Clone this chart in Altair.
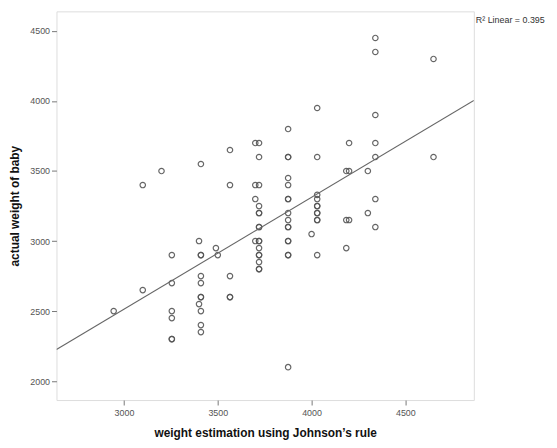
import altair as alt
import pandas as pd

# weight estimation using Johnson's rule (x) and actual weight of baby (y)
est = [2945,
       3100, 3100,
       3200,
       3255, 3255, 3255, 3255, 3255, 3255,
       3410, 3400, 3410, 3410, 3410, 3410, 3410, 3410, 3400, 3410, 3410, 3410,
       3490, 3500,
       3565, 3565, 3565, 3565, 3565,
       3700, 3720, 3720, 3700, 3720, 3700, 3720, 3720, 3720, 3720, 3720, 3700,
       3720, 3720, 3720, 3720, 3720, 3720, 3720, 3720,
       3875, 3875, 3875, 3875, 3875, 3875, 3875, 3875, 3875, 3875, 3875, 3875,
       3875, 3875, 3875, 3875,
       4000,
       4030, 4030, 4030, 4030, 4030, 4030, 4030, 4030, 4030, 4030, 4030,
       4185, 4200, 4200, 4185, 4200, 4185,
       4300, 4300,
       4340, 4340, 4340, 4340, 4340, 4340, 4340,
       4650, 4650]
actual = [2500,
          3400, 2650,
          3500,
          2900, 2700, 2500, 2450, 2300, 2300,
          3550, 3000, 2900, 2900, 2750, 2700, 2600, 2600, 2550, 2500, 2400, 2350,
          2950, 2900,
          3650, 3400, 2750, 2600, 2600,
          3700, 3700, 3600, 3400, 3400, 3300, 3250, 3200, 3200, 3100, 3100, 3000,
          3000, 3000, 2950, 2900, 2900, 2850, 2800, 2800,
          3800, 3600, 3600, 3450, 3400, 3300, 3300, 3200, 3150, 3100, 3100, 3000,
          3000, 2900, 2900, 2100,
          3050,
          3950, 3600, 3330, 3300, 3250, 3250, 3200, 3200, 3150, 3150, 2900,
          3500, 3500, 3700, 3150, 3150, 2950,
          3500, 3200,
          4450, 4350, 3900, 3700, 3600, 3300, 3100,
          4300, 3600]

x_ticks = [3000, 3500, 4000, 4500]
y_ticks = [2000, 2500, 3000, 3500, 4000, 4500]
x_domain = [2640, 4865]
y_domain = [1865, 4640]
r2_label = ["R\u00b2 Linear = 0.395"]

df = pd.DataFrame({"est": est, "actual": actual})

W, H = 422, 393
FONT = "Liberation Sans"

xs = alt.Scale(domain=x_domain, nice=False, zero=False)
ys = alt.Scale(domain=y_domain, nice=False, zero=False)

x_axis = alt.Axis(values=x_ticks, format="d", title="weight estimation using Johnson\u2019s rule",
                  grid=False, domain=False, tickSize=5, tickColor="#777",
                  labelColor="#555", labelFontSize=9, labelFont=FONT, labelPadding=4,
                  titleFont=FONT, titleFontSize=12, titleFontWeight="bold",
                  titleColor="#111", titleY=33, titleBaseline="middle")
y_axis = alt.Axis(values=y_ticks, format="d", title="actual weight of baby",
                  grid=False, domain=False, tickSize=5, tickColor="#777",
                  labelColor="#555", labelFontSize=9, labelFont=FONT, labelPadding=2,
                  titleFont=FONT, titleFontSize=12, titleFontWeight="bold",
                  titleColor="#111", titleX=-42, titleY=H / 2,
                  titleBaseline="middle", titleAlign="center", titleAngle=-90)

base = alt.Chart(df)

points = base.mark_point(shape="circle", filled=False, size=30, strokeWidth=1.2,
                         color="#555", opacity=0.9).encode(
    x=alt.X("est:Q", scale=xs, axis=x_axis),
    y=alt.Y("actual:Q", scale=ys, axis=y_axis),
)

line = base.transform_regression("est", "actual", extent=x_domain).mark_line(
    color="#666", strokeWidth=1.1, clip=True).encode(
    x=alt.X("est:Q", scale=xs),
    y=alt.Y("actual:Q", scale=ys),
)

label = alt.Chart(pd.DataFrame({"t": r2_label})).mark_text(
    align="left", baseline="middle", fontSize=9, font=FONT, color="#333"
).encode(text="t:N", x=alt.value(W + 2), y=alt.value(9))

chart = alt.layer(points, line, label).properties(
    width=W, height=H,
    autosize=alt.AutoSizeParams(type="none"),
    padding={"left": 49, "top": 1, "right": 76, "bottom": 38},
).configure_view(
    fill="#f2f2f2", stroke="#8c8c8c", strokeWidth=1.5
).configure(background="white")

chart.save("out.html", embed_options={"renderer": "svg", "actions": False})
